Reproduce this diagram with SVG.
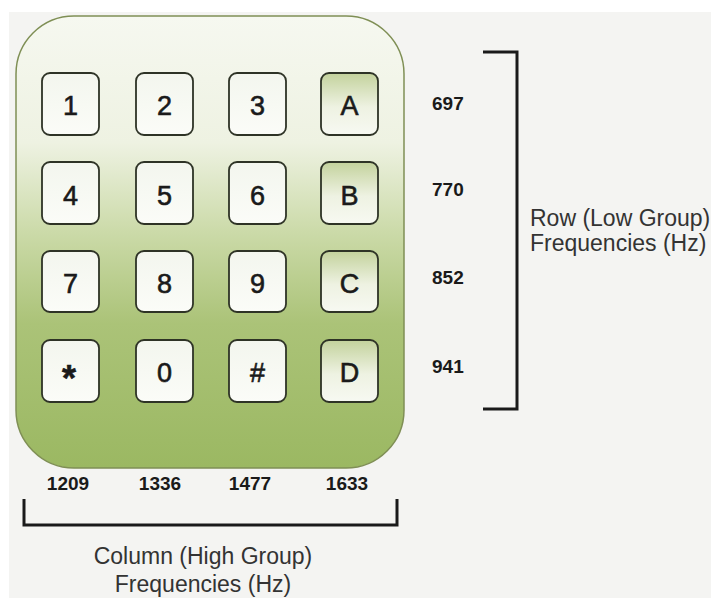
<svg xmlns="http://www.w3.org/2000/svg" width="711" height="598" viewBox="0 0 711 598">
  <defs>
    <linearGradient id="panelFill" x1="0" y1="0" x2="0" y2="1">
      <stop offset="0" stop-color="#f6f8f0"/>
      <stop offset="0.28" stop-color="#eef2e2"/>
      <stop offset="0.48" stop-color="#cbdaa8"/>
      <stop offset="0.68" stop-color="#abc378"/>
      <stop offset="1" stop-color="#9bb862"/>
    </linearGradient>
    <linearGradient id="keyFill" x1="0" y1="0" x2="0" y2="1">
      <stop offset="0" stop-color="#f3f6ee"/>
      <stop offset="1" stop-color="#fbfcf8"/>
    </linearGradient>
    <linearGradient id="letterKeyFill" x1="0" y1="0" x2="0" y2="1">
      <stop offset="0" stop-color="#c3d29c"/>
      <stop offset="0.55" stop-color="#eef2e2"/>
      <stop offset="1" stop-color="#f7f9f2"/>
    </linearGradient>
    <style>
      .key rect { fill: url(#keyFill); stroke: #2e3326; stroke-width: 1.8; }
      .key.letter rect { fill: url(#letterKeyFill); }
      .key text { font-family: "Liberation Sans", Arial, sans-serif; font-size: 27px; fill: #1a1a1a; stroke: #1a1a1a; stroke-width: 0.6; text-anchor: middle; }
      .freq { font-family: "Liberation Sans", Arial, sans-serif; font-size: 19px; font-weight: bold; fill: #1a1a1a; }
      .label { font-family: "Liberation Sans", Arial, sans-serif; font-size: 23px; fill: #333333; }
      .bracket { fill: none; stroke: #1a1a1a; stroke-width: 3; }
    </style>
  </defs>

  <rect x="0" y="0" width="711" height="598" fill="#f4f4f2"/>
  <rect x="0" y="0" width="711" height="12" fill="#ffffff"/>
  <rect x="0" y="0" width="9" height="598" fill="#ffffff"/>

  <!-- keypad body -->
  <g id="keypad">
    <rect x="16" y="16" width="388" height="452" rx="58" ry="58" fill="url(#panelFill)" stroke="#7f8f55" stroke-width="1.5"/>
  </g>

  <!-- keys: 4 columns x 4 rows -->
  <g id="key-1" class="key"><rect x="42" y="73" width="57" height="62" rx="8"/><text x="70.5" y="115">1</text></g>
  <g id="key-2" class="key"><rect x="136" y="73" width="57" height="62" rx="8"/><text x="164.5" y="115">2</text></g>
  <g id="key-3" class="key"><rect x="229" y="73" width="57" height="62" rx="8"/><text x="257.5" y="115">3</text></g>
  <g id="key-A" class="key letter"><rect x="321" y="73" width="57" height="62" rx="8"/><text x="349.5" y="115">A</text></g>

  <g id="key-4" class="key"><rect x="42" y="162" width="57" height="62" rx="8"/><text x="70.5" y="205">4</text></g>
  <g id="key-5" class="key"><rect x="136" y="162" width="57" height="62" rx="8"/><text x="164.5" y="205">5</text></g>
  <g id="key-6" class="key"><rect x="229" y="162" width="57" height="62" rx="8"/><text x="257.5" y="205">6</text></g>
  <g id="key-B" class="key letter"><rect x="321" y="162" width="57" height="62" rx="8"/><text x="349.5" y="205">B</text></g>

  <g id="key-7" class="key"><rect x="42" y="251" width="57" height="61" rx="8"/><text x="70.5" y="293">7</text></g>
  <g id="key-8" class="key"><rect x="136" y="251" width="57" height="61" rx="8"/><text x="164.5" y="293">8</text></g>
  <g id="key-9" class="key"><rect x="229" y="251" width="57" height="61" rx="8"/><text x="257.5" y="293">9</text></g>
  <g id="key-C" class="key letter"><rect x="321" y="251" width="57" height="61" rx="8"/><text x="349.5" y="293">C</text></g>

  <g id="key-star" class="key"><rect x="42" y="340" width="57" height="62" rx="8"/><text x="69" y="391" style="font-size:36px;font-weight:bold">*</text></g>
  <g id="key-0" class="key"><rect x="136" y="340" width="57" height="62" rx="8"/><text x="164.5" y="382">0</text></g>
  <g id="key-hash" class="key"><rect x="229" y="340" width="57" height="62" rx="8"/><text x="257.5" y="382">#</text></g>
  <g id="key-D" class="key letter"><rect x="321" y="340" width="57" height="62" rx="8"/><text x="349.5" y="382">D</text></g>

  <!-- row (low group) frequencies -->
  <g id="row-freqs">
    <text class="freq" x="432" y="110">697</text>
    <text class="freq" x="432" y="196">770</text>
    <text class="freq" x="432" y="284">852</text>
    <text class="freq" x="432" y="373">941</text>
  </g>

  <!-- column (high group) frequencies -->
  <g id="col-freqs">
    <text class="freq" x="68" y="490" text-anchor="middle">1209</text>
    <text class="freq" x="160" y="490" text-anchor="middle">1336</text>
    <text class="freq" x="250" y="490" text-anchor="middle">1477</text>
    <text class="freq" x="347" y="490" text-anchor="middle">1633</text>
  </g>

  <!-- brackets -->
  <g id="connectors">
    <polyline class="bracket" points="483,52 517,52 517,409 483,409"/>
    <polyline class="bracket" points="24,499 24,525 397,525 397,499"/>
  </g>

  <g id="row-label">
    <text class="label" x="530" y="226">Row (Low Group)</text>
    <text class="label" x="530" y="251">Frequencies (Hz)</text>
  </g>
  <g id="column-label">
    <text class="label" x="203" y="564" text-anchor="middle">Column (High Group)</text>
    <text class="label" x="203" y="592" text-anchor="middle">Frequencies (Hz)</text>
  </g>
</svg>
